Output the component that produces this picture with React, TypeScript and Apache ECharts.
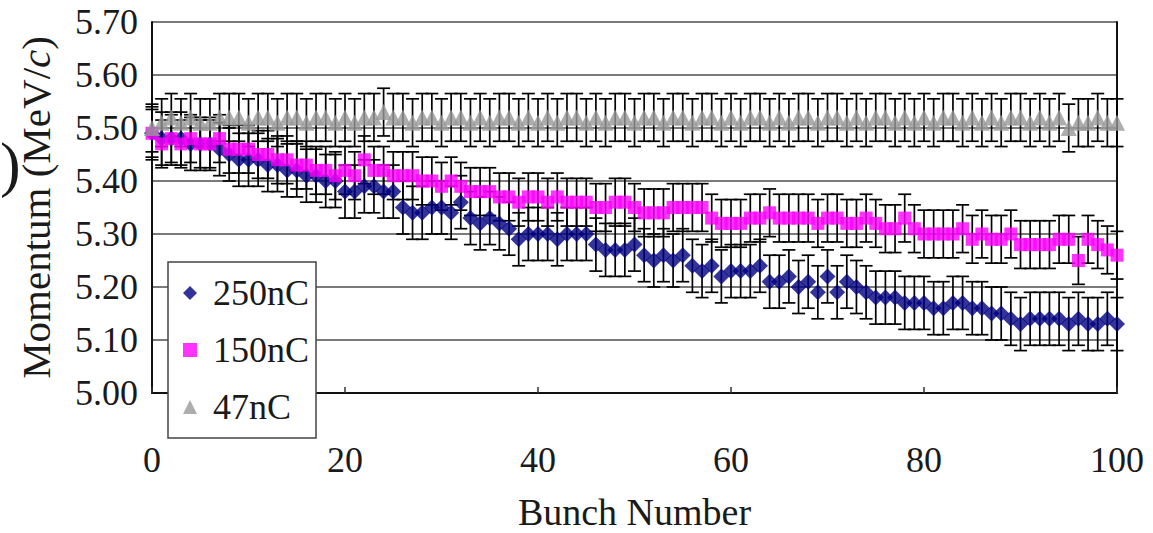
import React, { useEffect, useRef } from "react";
import * as echarts from "echarts";

const bunches: number[] = [
  0, 1, 2, 3, 4, 5, 6, 7, 8, 9, 10, 11, 12, 13, 14, 15, 16, 17, 18, 19, 20,
  21, 22, 23, 24, 25, 26, 27, 28, 29, 30, 31, 32, 33, 34, 35, 36, 37, 38, 39, 40,
  41, 42, 43, 44, 45, 46, 47, 48, 49, 50, 51, 52, 53, 54, 55, 56, 57, 58, 59, 60,
  61, 62, 63, 64, 65, 66, 67, 68, 69, 70, 71, 72, 73, 74, 75, 76, 77, 78, 79, 80,
  81, 82, 83, 84, 85, 86, 87, 88, 89, 90, 91, 92, 93, 94, 95, 96, 97, 98, 99, 100,
];

const m250: number[] = [
  5.49, 5.48, 5.48, 5.48, 5.47, 5.47, 5.47, 5.46, 5.45, 5.44,
  5.44, 5.44, 5.43, 5.43, 5.42, 5.42, 5.41, 5.41, 5.40, 5.40,
  5.38, 5.38, 5.39, 5.39, 5.38, 5.38, 5.35, 5.34, 5.34, 5.35,
  5.35, 5.34, 5.36, 5.33, 5.32, 5.33, 5.32, 5.31, 5.29, 5.30,
  5.30, 5.30, 5.29, 5.30, 5.30, 5.30, 5.28, 5.27, 5.27, 5.27,
  5.28, 5.26, 5.25, 5.26, 5.25, 5.26, 5.24, 5.23, 5.24, 5.22,
  5.23, 5.23, 5.23, 5.24, 5.21, 5.21, 5.22, 5.20, 5.21, 5.19,
  5.22, 5.19, 5.21, 5.20, 5.19, 5.18, 5.18, 5.18, 5.17, 5.17,
  5.17, 5.16, 5.16, 5.17, 5.17, 5.16, 5.16, 5.15, 5.15, 5.14,
  5.13, 5.14, 5.14, 5.14, 5.14, 5.13, 5.14, 5.13, 5.13, 5.14,
  5.13,
];

const m150: number[] = [
  5.49, 5.47, 5.48, 5.47, 5.48, 5.47, 5.47, 5.48, 5.46, 5.46,
  5.46, 5.45, 5.45, 5.44, 5.44, 5.43, 5.43, 5.42, 5.42, 5.41,
  5.42, 5.41, 5.44, 5.42, 5.42, 5.41, 5.41, 5.41, 5.40, 5.40,
  5.39, 5.40, 5.39, 5.38, 5.38, 5.38, 5.37, 5.37, 5.36, 5.37,
  5.37, 5.36, 5.37, 5.36, 5.36, 5.36, 5.35, 5.35, 5.36, 5.36,
  5.35, 5.34, 5.34, 5.34, 5.35, 5.35, 5.35, 5.35, 5.33, 5.32,
  5.32, 5.32, 5.33, 5.33, 5.34, 5.33, 5.33, 5.33, 5.33, 5.32,
  5.33, 5.33, 5.32, 5.32, 5.33, 5.32, 5.31, 5.31, 5.33, 5.31,
  5.30, 5.30, 5.30, 5.30, 5.31, 5.29, 5.30, 5.29, 5.29, 5.30,
  5.28, 5.28, 5.28, 5.28, 5.29, 5.29, 5.25, 5.29, 5.28, 5.27,
  5.26,
];

const m47: number[] = [
  5.50, 5.51, 5.52, 5.51, 5.52, 5.51, 5.51, 5.52, 5.52, 5.52,
  5.51, 5.52, 5.52, 5.51, 5.52, 5.52, 5.51, 5.52, 5.52, 5.51,
  5.52, 5.51, 5.52, 5.52, 5.53, 5.52, 5.52, 5.51, 5.52, 5.52,
  5.51, 5.52, 5.52, 5.51, 5.52, 5.51, 5.52, 5.52, 5.51, 5.52,
  5.51, 5.52, 5.51, 5.52, 5.52, 5.51, 5.52, 5.51, 5.52, 5.52,
  5.51, 5.52, 5.52, 5.51, 5.52, 5.52, 5.51, 5.52, 5.52, 5.51,
  5.52, 5.51, 5.52, 5.52, 5.51, 5.52, 5.51, 5.52, 5.52, 5.51,
  5.52, 5.52, 5.51, 5.52, 5.51, 5.52, 5.52, 5.51, 5.52, 5.51,
  5.52, 5.51, 5.52, 5.52, 5.51, 5.52, 5.51, 5.52, 5.51, 5.52,
  5.52, 5.51, 5.52, 5.51, 5.52, 5.50, 5.51, 5.51, 5.52, 5.51,
  5.51,
];

const err250 = 0.05;
const err150 = 0.045;
const err47 = 0.045;

const yTicks: string[] = ["5.00", "5.10", "5.20", "5.30", "5.40", "5.50", "5.60", "5.70"];
const xTicks: number[] = [0, 20, 40, 60, 80, 100];

const seriesNames: string[] = ["250nC", "150nC", "47nC"];
const colors: string[] = ["#000080", "#FF00FF", "#999999"];
const symbols: string[] = ["diamond", "rect", "triangle"];
const symbolSizes: number[] = [16, 13, 16];

const FONT = "'Liberation Serif', 'Times New Roman', serif";
const TEXT = "#1a1a1a";

function errData(vals: number[], e: number) {
  return vals.map((v, i) => [bunches[i], +(v - e).toFixed(3), +(v + e).toFixed(3)]);
}

function errorSeries(name: string, vals: number[], e: number) {
  return {
    type: "custom",
    name,
    clip: false,
    silent: true,
    encode: { x: 0, y: [1, 2] },
    data: errData(vals, e),
    renderItem: (params: any, api: any) => {
      const x = api.value(0);
      const lo = api.value(1);
      const hi = api.value(2);
      const pHi = api.coord([x, hi]);
      const pLo = api.coord([x, lo]);
      const hw = 6.5;
      const st = { stroke: "#000000", lineWidth: 1.7 };
      return {
        type: "group",
        children: [
          { type: "line", shape: { x1: pHi[0], y1: pHi[1], x2: pLo[0], y2: pLo[1] }, style: st },
          { type: "line", shape: { x1: pHi[0] - hw, y1: pHi[1], x2: pHi[0] + hw, y2: pHi[1] }, style: st },
          { type: "line", shape: { x1: pLo[0] - hw, y1: pLo[1], x2: pLo[0] + hw, y2: pLo[1] }, style: st },
        ],
      };
    },
  };
}

function scatterSeries(idx: number, vals: number[]) {
  return {
    type: "scatter",
    name: seriesNames[idx],
    symbol: symbols[idx],
    symbolSize: symbolSizes[idx],
    itemStyle: { color: colors[idx] },
    data: vals.map((v, i) => [bunches[i], v]),
  };
}

export default function App() {
  const ref = useRef<HTMLDivElement>(null);

  useEffect(() => {
    if (!ref.current) return;
    const chart = echarts.init(ref.current, undefined, { renderer: "svg" });
    const option: any = {
      animation: false,
      backgroundColor: "#ffffff",
      grid: { left: 152, right: 36, top: 22, bottom: 140, outerBoundsMode: "none", containLabel: false },
      legend: {
        data: seriesNames,
        orient: "vertical",
        left: 168,
        top: 262,
        padding: [13, 7, 13, 15],
        itemGap: 21,
        itemWidth: 14,
        itemHeight: 14,
        backgroundColor: "#ffffff",
        borderColor: "#444444",
        borderWidth: 1.5,
        textStyle: {
          fontFamily: FONT,
          fontSize: 36,
          color: TEXT,
          padding: [0, 0, 0, 11],
        },
      },
      xAxis: {
        type: "value",
        min: 0,
        max: 100,
        interval: 20,
        name: "Bunch Number",
        nameLocation: "middle",
        nameGap: 100,
        nameTextStyle: { fontFamily: FONT, fontSize: 38, color: TEXT },
        axisLine: { show: true, lineStyle: { color: "#111111", width: 2 } },
        axisTick: { show: true, inside: true, length: 6, lineStyle: { color: "#333333", width: 1.5 } },
        axisLabel: {
          fontFamily: FONT,
          fontSize: 36,
          color: TEXT,
          margin: 49,
          formatter: (v: number) => (xTicks.includes(v) ? String(v) : ""),
        },
        splitLine: { show: false },
      },
      yAxis: [
        {
          type: "value",
          min: 5.0,
          max: 5.7,
          interval: 0.1,
          name: "{a|Momentum (MeV/}{b|c}{a|)}",
          nameLocation: "middle",
          nameGap: 96,
          nameRotate: 90,
          nameTextStyle: {
            fontFamily: FONT,
            fontSize: 41,
            color: TEXT,
            rich: {
              a: { fontFamily: FONT, fontSize: 41, color: TEXT },
              b: { fontFamily: FONT, fontSize: 41, color: TEXT, fontStyle: "italic" },
            },
          },
          axisLine: { show: true, lineStyle: { color: "#111111", width: 2 } },
          axisTick: { show: false },
          axisLabel: {
            fontFamily: FONT,
            fontSize: 36,
            color: TEXT,
            margin: 14,
            formatter: (v: number) => yTicks[Math.round((v - 5.0) * 10)] ?? "",
          },
          splitLine: { show: true, lineStyle: { color: "#7a7a7a", width: 2 } },
        },
        {
          type: "value",
          min: 5.0,
          max: 5.7,
          interval: 0.1,
          position: "right",
          axisLine: { show: true, lineStyle: { color: "#111111", width: 2 } },
          axisTick: { show: false },
          axisLabel: { show: false },
          splitLine: { show: false },
        },
      ],
      graphic: [
        {
          type: "text",
          left: 0,
          top: 133,
          style: { text: ")", fontFamily: FONT, fontSize: 62, fill: TEXT },
        },
      ],
      series: [
        errorSeries("250nC err", m250, err250),
        scatterSeries(0, m250),
        errorSeries("150nC err", m150, err150),
        scatterSeries(1, m150),
        errorSeries("47nC err", m47, err47),
        scatterSeries(2, m47),
      ],
    };
    chart.setOption(option);
    return () => chart.dispose();
  }, []);

  return (
    <div
      ref={ref}
      style={{ position: "absolute", left: 0, top: 0, width: 1153, height: 533 }}
    />
  );
}
